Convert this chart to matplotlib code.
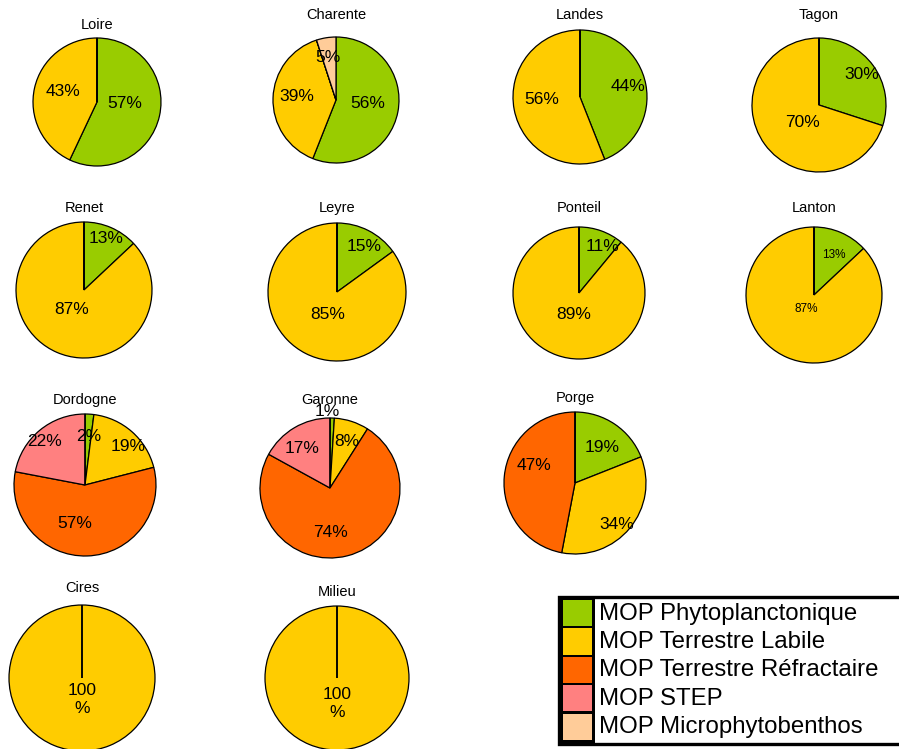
import matplotlib
matplotlib.use("Agg")
import matplotlib.pyplot as plt
from matplotlib.patches import Rectangle
import numpy as np

# ----- Matplotlib settings -----
plt.rcParams["font.family"] = "Liberation Sans"

# ----- data (% of POM by source) -----
SITES = ["Loire", "Charente", "Landes", "Tagon",
         "Renet", "Leyre", "Ponteil", "Lanton",
         "Dordogne", "Garonne", "Porge",
         "Cires", "Milieu"]
CATEGORIES = ["MOP Phytoplanctonique", "MOP Terrestre Labile",
              "MOP Terrestre Réfractaire", "MOP STEP",
              "MOP Microphytobenthos"]
phyto      = [57, 56, 44, 30, 13, 15, 11, 13,  2,  1, 19,   0,   0]
labile     = [43, 39, 56, 70, 87, 85, 89, 87, 19,  8, 34, 100, 100]
refract    = [ 0,  0,  0,  0,  0,  0,  0,  0, 57, 74, 47,   0,   0]
step       = [ 0,  0,  0,  0,  0,  0,  0,  0, 22, 17,  0,   0,   0]
microphyto = [ 0,  5,  0,  0,  0,  0,  0,  0,  0,  0,  0,   0,   0]

COLORS = ["#99CC00", "#FFCC00", "#FF6600", "#FF8080", "#FFCC99"]

# ----- layout (pixels): pie centre, radius, title y -----
W_PX, H_PX = 899, 749
LAYOUT = {
    "Loire":    (97, 102, 64, 25),
    "Charente": (336, 100, 63, 15),
    "Landes":   (580, 97, 67, 15),
    "Tagon":    (819, 105, 67, 15),
    "Renet":    (84, 290, 68, 208),
    "Leyre":    (337, 292, 69, 208),
    "Ponteil":  (579, 293, 66, 208),
    "Lanton":   (814, 295, 68, 208),
    "Dordogne": (85, 485, 71, 400),
    "Garonne":  (330, 488, 70, 400),
    "Porge":    (575, 483, 71, 398),
    "Cires":    (82, 678, 73, 588),
    "Milieu":   (337, 678, 72, 592),
}
# label placement: (radius fraction, angle nudge in degrees) per slice
LABEL_POS = {
    "Loire":    [(0.44, 10), (0.56, -5)],
    "Charente": [(0.50, 4), (0.62, -4), None, None, (0.69, 2)],
    "Landes":   [(0.73, 2), (0.57, -7)],
    "Tagon":    [(0.78, 0), (0.36, 12)],
    "Renet":    [(0.82, 0), (0.34, -9)],
    "Leyre":    [(0.77, -4), (0.36, 4)],
    "Ponteil":  [(0.79, -7), (0.34, 5)],
    "Lanton":   [(0.66, -3), (0.23, -6)],
    "Dordogne": [(0.69, -1), (0.81, -7), (0.56, -17), (0.84, 3)],
    "Garonne":  [(1.09, 4), (0.70, -2), (0.64, -14), (0.69, 5)],
    "Porge":    [(0.63, -3), (0.83, -5), (0.63, -17)],
    "Cires":    [None, (0.30, 0)],
    "Milieu":   [None, (0.35, 0)],
}
SMALL_LABELS = ["Lanton"]


def px_axes(fig, cx, cy, r, pad=1.1):
    size = 2 * r * pad
    return fig.add_axes([(cx - size / 2) / W_PX, 1 - (cy + size / 2) / H_PX,
                         size / W_PX, size / H_PX])


def draw_pie(fig, i, site):
    cx, cy, r, ty = LAYOUT[site]
    values = [phyto[i], labile[i], refract[i], step[i], microphyto[i]]
    ax = px_axes(fig, cx, cy, r)
    wedges, _ = ax.pie(values, colors=COLORS, startangle=90, counterclock=False,
                       radius=1, wedgeprops=dict(edgecolor="black", linewidth=0.9))
    ax.set_xlim(-1.1, 1.1)
    ax.set_ylim(-1.1, 1.1)
    ax.set_axis_off()

    fs = 8.5 if site in SMALL_LABELS else 12.5
    pos = LABEL_POS[site]
    for k, (w, v) in enumerate(zip(wedges, values)):
        if v == 0 or k >= len(pos) or pos[k] is None:
            continue
        rr, nudge = pos[k]
        ang = np.deg2rad((w.theta1 + w.theta2) / 2 + nudge)
        txt = f"{v}%" if v < 100 else f"{v}\n%"
        ax.text(rr * np.cos(ang), rr * np.sin(ang), txt, ha="center",
                va="center", fontsize=fs, linespacing=1.25, clip_on=False)

    fig.text(cx / W_PX, 1 - ty / H_PX, site, ha="center", va="center",
             fontsize=10.5)


def draw_legend(fig):
    x0, y0, x1, y1 = 559, 597, 910, 744
    ax = fig.add_axes([x0 / W_PX, 1 - y1 / H_PX, (x1 - x0) / W_PX, (y1 - y0) / H_PX])
    w, h = x1 - x0, y1 - y0
    ax.set_xlim(0, w)
    ax.set_ylim(h, 0)
    ax.set_axis_off()
    ax.add_patch(Rectangle((0, 0), w, h, facecolor="white", edgecolor="black",
                           linewidth=2.4, clip_on=False))
    ax.add_patch(Rectangle((0, 0), 36, h, facecolor="black", edgecolor="none"))
    pitch = 28.4
    for k, (cat, col) in enumerate(zip(CATEGORIES, COLORS)):
        top = 3 + k * pitch
        ax.add_patch(Rectangle((4, top), 29, pitch - 2.2, facecolor=col,
                               edgecolor="none"))
        ax.text(40, top + (pitch - 2.2) / 2 + 0.5, cat, ha="left", va="center",
                fontsize=17.3)


def main():
    fig = plt.figure(figsize=(W_PX / 100, H_PX / 100), dpi=100)
    for i, site in enumerate(SITES):
        draw_pie(fig, i, site)
    draw_legend(fig)
    fig.savefig("out.png", dpi=100)


if __name__ == "__main__":
    main()
